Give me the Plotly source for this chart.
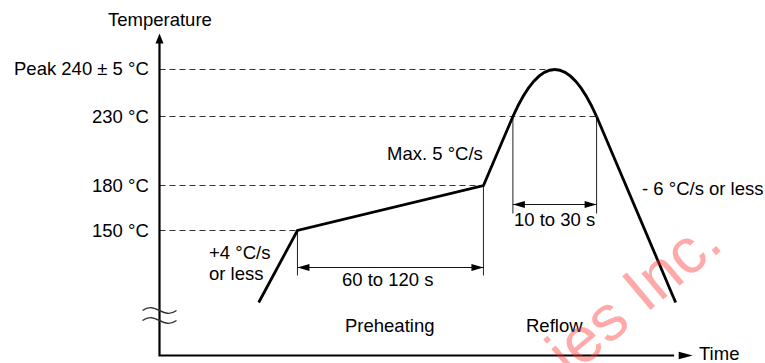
import numpy as np
import plotly.graph_objects as go

# Temperature levels marked on the vertical axis (°C)
level_temps = [150, 180, 230, 240]
level_labels = ["150 °C", "180 °C", "230 °C", "Peak 240 ± 5 °C"]

# Profile corner points: time (s) and temperature (°C)
rise_time = [64, 89, 209, 228]
rise_temp = [102, 150, 180, 230]
fall_time = [282, 333]
fall_temp = [230, 102]
peak_time = 255
peak_temp = 240

# Timed spans marked with dimension arrows
preheat_span = [89, 209]
reflow_span = [228, 282]
span_labels = ["60 to 120 s", "10 to 30 s"]

# Non-uniform schematic temperature scale (the axis is broken below 150 °C)
scale_temp = [0, 150, 180, 230, 240]
scale_pos = [-100, 125, 170, 239, 286]


def lvl(temp):
    return float(np.interp(temp, scale_temp, scale_pos))


# drawing scale: pixels per second / per scale unit
SX, SY = 1.55, 1.0
W, H = 765, 363
X0_PX, Y0_PX = 159.5, 355.5        # where the axes cross
x_range = [-X0_PX / SX, (W - X0_PX) / SX]
y_range = [-(H - Y0_PX) / SY, Y0_PX / SY]

BLACK = "#000000"
FONT = dict(family="Liberation Sans, Arial, sans-serif", size=18.5, color=BLACK)

fig = go.Figure()


def line(xs, ys, color=BLACK, width=1.0, dash=None):
    fig.add_trace(go.Scatter(
        x=xs, y=ys, mode="lines", hoverinfo="skip",
        line=dict(color=color, width=width, dash=dash, simplify=False),
    ))


def head(tip_x, tip_y, dx, dy, length, width):
    """Filled triangular arrowhead; sizes in pixels."""
    tx, ty = tip_x * SX, tip_y * SY
    n = (dx * dx + dy * dy) ** 0.5
    dx, dy = dx / n, dy / n
    bx, by = tx - dx * length, ty - dy * length
    px, py = -dy * width / 2, dx * width / 2
    pts = [(tx, ty), (bx + px, by + py), (bx - px, by - py), (tx, ty)]
    fig.add_trace(go.Scatter(
        x=[p[0] / SX for p in pts], y=[p[1] / SY for p in pts],
        mode="lines", fill="toself", fillcolor=BLACK,
        line=dict(color=BLACK, width=0), hoverinfo="skip",
    ))


# dashed guide lines from the axis to the profile
guide_end = {150: rise_time[1], 180: rise_time[2],
             230: fall_time[0], 240: peak_time}
for temp in level_temps:
    line([0, guide_end[temp]], [lvl(temp)] * 2, color="#333333", width=1,
         dash="6px,4px")

# extension lines and dimension arrows
pre_dim = 88
pre_ext = pre_dim - 8
line([preheat_span[0]] * 2, [lvl(150), pre_ext], color="#222222", width=1)
line([preheat_span[1]] * 2, [lvl(180), pre_ext], color="#222222", width=1)
line(preheat_span, [pre_dim] * 2, color="#111111", width=1.1)
head(preheat_span[0], pre_dim, -1, 0, 12, 7)
head(preheat_span[1], pre_dim, 1, 0, 12, 7)

ref_dim = 151
ref_ext = ref_dim - 9
line([reflow_span[0]] * 2, [lvl(230), ref_ext], color="#222222", width=1)
line([reflow_span[1]] * 2, [lvl(230), ref_ext], color="#222222", width=1)
line(reflow_span, [ref_dim] * 2, color="#111111", width=1.1)
head(reflow_span[0], ref_dim, -1, 0, 12, 7)
head(reflow_span[1], ref_dim, 1, 0, 12, 7)

# profile: straight ramps
fig.add_trace(go.Scatter(
    x=rise_time, y=[lvl(v) for v in rise_temp], mode="lines", hoverinfo="skip",
    line=dict(color=BLACK, width=2.8),
))
fig.add_trace(go.Scatter(
    x=fall_time, y=[lvl(v) for v in fall_temp], mode="lines", hoverinfo="skip",
    line=dict(color=BLACK, width=2.8),
))

# profile: reflow dome as a quadratic Bezier whose midpoint is the peak
hL, hR, hP = lvl(rise_temp[-1]), lvl(fall_temp[0]), lvl(peak_temp)
hC = 2 * hP - (hL + hR) / 2
dome = f"M {rise_time[-1]},{hL} Q {peak_time},{hC} {fall_time[0]},{hR}"
shapes = [dict(type="path", xref="x", yref="y", path=dome,
               line=dict(color=BLACK, width=2.8), layer="above")]

# axis-break symbol on the vertical axis
wave_w = 34 / SX
for hc in (45, 35):
    x0, x1 = -wave_w / 2, wave_w / 2
    k = 10
    path = (f"M {x0},{hc} C {x0 + 0.4 * wave_w},{hc + k} "
            f"{x0 + 0.6 * wave_w},{hc - k} {x1},{hc}")
    shapes.append(dict(type="path", xref="x", yref="y", path=path,
                       line=dict(color="#333333", width=1.4)))

# axes with arrowheads
AXIS_TOP = 322
AXIS_END = 344
line([0, 0, AXIS_END - 12], [AXIS_TOP - 9, 0, 0], width=2.2)
head(0, AXIS_TOP, 0, 1, 10, 8)
head(AXIS_END, 0, 1, 0, 14, 7.5)

annotations = []


def text(s, x, y, **kw):
    d = dict(text=s, x=x, y=y, xref="x", yref="y", showarrow=False, font=FONT)
    d.update(kw)
    annotations.append(d)


for temp, lab in zip(level_temps, level_labels):
    text(lab, 0, lvl(temp), xanchor="right", xshift=-9,
         yshift=1.5 if temp == peak_temp else 0)

text("Temperature", 0, 336, xanchor="center")
text("Time", AXIS_END, 0, xanchor="left", xshift=4, yshift=2)
text("+4 °C/s", 30.5, 103.3, xanchor="left")
text("or less", 30.5, 81.7, xanchor="left")
text("Max. 5 °C/s", rise_time[2], 202.5, xanchor="right", xshift=2)
text("- 6 °C/s or less", 310, 166.7, xanchor="left")
text(span_labels[0], sum(preheat_span) / 2, pre_dim, yshift=-12, xshift=-2)
text(span_labels[1], sum(reflow_span) / 2, ref_dim, yshift=-15)
text("Preheating", sum(preheat_span) / 2, 30, xshift=-1)
text("Reflow", peak_time, 30)

# faint watermark
annotations.append(dict(
    text="ies Inc.", x=(633 - X0_PX) / SX, y=Y0_PX - 296, xref="x", yref="y",
    showarrow=False, textangle=-40,
    font=dict(family="Liberation Sans, Arial, sans-serif", size=64,
              color="rgba(255,50,50,0.42)"),
))

fig.update_layout(
    width=W, height=H, autosize=False,
    margin=dict(l=0, r=0, t=0, b=0, pad=0),
    paper_bgcolor="white", plot_bgcolor="white",
    showlegend=False,
    xaxis=dict(range=x_range, visible=False, fixedrange=True),
    yaxis=dict(range=y_range, visible=False, fixedrange=True),
    shapes=shapes, annotations=annotations,
)

fig.write_html("out.html", config={"displayModeBar": False})
